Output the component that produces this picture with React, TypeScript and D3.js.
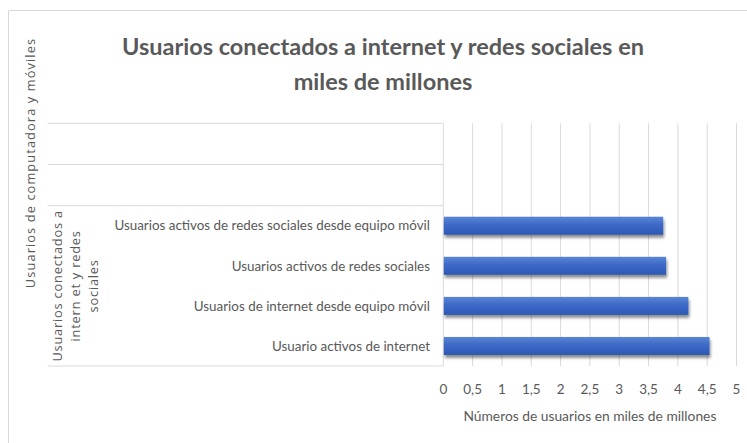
import React from "react";
import * as d3 from "d3";

const categories = [
  "Usuarios activos de redes sociales desde equipo móvil",
  "Usuarios activos de redes sociales",
  "Usuarios de internet desde equipo móvil",
  "Usuario activos de internet",
];
const values = [3.75, 3.8, 4.18, 4.54];
const xTicks = [0, 0.5, 1, 1.5, 2, 2.5, 3, 3.5, 4, 4.5, 5];
const titleLines = ["Usuarios conectados a internet y redes sociales en", "miles de millones"];
const groupLabelLines = ["Usuarios conectados a", "intern et y redes", "sociales"];
const topGroupLabel = "Usuarios de computadora y móviles";
const xAxisTitle = "Números de usuarios en miles de millones";

const W = 747;
const H = 443;
const plotLeft = 443.3;
const plotRight = 736.5;
const plotTop = 123.3;
const plotBottom = 366;
const tableLeft = 47.5;
const groupTop = 205.7;
const rowLines = [123.3, 164.5, 205.7, 366];
const txt = "#595959";
const grid = "#d9d9d9";

export default function App() {
  const x = d3.scaleLinear().domain([0, 5]).range([plotLeft, plotRight]);
  const y = d3
    .scaleBand<string>()
    .domain(categories)
    .range([groupTop, plotBottom])
    .paddingInner(0.55)
    .paddingOuter(0.275);

  return (
    <svg
      width={W}
      height={H}
      style={{ position: "absolute", left: 0, top: 0, background: "#fff" }}
    >
      <defs>
        <linearGradient id="barGrad" x1="0" y1="0" x2="0" y2="1">
          <stop offset="0" stopColor="#5a86d6" />
          <stop offset="0.45" stopColor="#3d69c6" />
          <stop offset="1" stopColor="#2c58b5" />
        </linearGradient>
        <filter id="shadow" x="-5%" y="-30%" width="110%" height="180%">
          <feGaussianBlur in="SourceAlpha" stdDeviation="1.6" />
          <feOffset dx="0.5" dy="2.5" result="b" />
          <feComponentTransfer>
            <feFuncA type="linear" slope="0.45" />
          </feComponentTransfer>
          <feMerge>
            <feMergeNode />
            <feMergeNode in="SourceGraphic" />
          </feMerge>
        </filter>
      </defs>
      <rect x={0} y={0} width={W} height={H} fill="#fff" />
      {/* outer chart border */}
      <line x1={8.5} y1={10.5} x2={W + 2} y2={10.5} stroke={grid} />
      <line x1={8.5} y1={10.5} x2={8.5} y2={H + 2} stroke={grid} />

      {/* title */}
      {titleLines.map((t, i) => (
        <text
          key={i}
          x={383}
          y={55 + i * 35}
          textAnchor="middle"
          fontFamily="Lato, 'Open Sans', sans-serif"
          fontWeight={700}
          fontSize={23.5}
          fill={txt}
        >
          {t}
        </text>
      ))}

      {/* gridlines */}
      {xTicks.slice(1).map((t) => (
        <line
          key={t}
          x1={x(t)}
          x2={x(t)}
          y1={plotTop}
          y2={plotBottom}
          stroke={grid}
          strokeWidth={1}
        />
      ))}

      {/* category table lines */}
      {rowLines.map((ry, i) => (
        <line key={i} x1={tableLeft} x2={plotLeft} y1={ry} y2={ry} stroke={grid} strokeWidth={1} />
      ))}
      <line x1={plotLeft} x2={plotLeft} y1={plotTop} y2={plotBottom} stroke={grid} strokeWidth={1} />

      {/* bars */}
      {categories.map((c, i) => (
        <rect
          key={c}
          x={x(0) + 0.5}
          y={y(c)!}
          width={x(values[i]) - x(0) - 0.5}
          height={y.bandwidth()}
          fill="url(#barGrad)"
          filter="url(#shadow)"
        />
      ))}

      {/* category labels */}
      {categories.map((c) => (
        <text
          key={c}
          x={430}
          y={y(c)! + y.bandwidth() / 2}
          dy="0.35em"
          textAnchor="end"
          fontFamily="Lato, sans-serif"
          fontSize={13.4}
          fill={txt}
        >
          {c}
        </text>
      ))}

      {/* group label (second level) */}
      <g transform={`translate(0, ${(groupTop + plotBottom) / 2})`}>
        {groupLabelLines.map((t, i) => (
          <text
            key={i}
            transform={`translate(${62 + i * 18}, 0) rotate(-90)`}
            textAnchor="middle"
            fontFamily="'Open Sans', sans-serif"
            fontSize={12.8}
            letterSpacing={0.8}
            fill={txt}
          >
            {t}
          </text>
        ))}
      </g>

      {/* top level group label */}
      <text
        transform={`translate(35, 163) rotate(-90)`}
        textAnchor="middle"
        fontFamily="'Open Sans', sans-serif"
        fontSize={12.8}
        letterSpacing={1.1}
        fill={txt}
      >
        {topGroupLabel}
      </text>

      {/* x tick labels */}
      {xTicks.map((t) => (
        <text
          key={t}
          x={x(t)}
          y={389}
          dy="0.35em"
          textAnchor="middle"
          fontFamily="Lato, sans-serif"
          fontSize={13.5}
          fill={txt}
        >
          {String(t).replace(".", ",")}
        </text>
      ))}

      {/* x axis title */}
      <text
        x={(plotLeft + plotRight) / 2}
        y={416}
        dy="0.35em"
        textAnchor="middle"
        fontFamily="Lato, sans-serif"
        fontSize={13.8}
        fill={txt}
      >
        {xAxisTitle}
      </text>
    </svg>
  );
}
